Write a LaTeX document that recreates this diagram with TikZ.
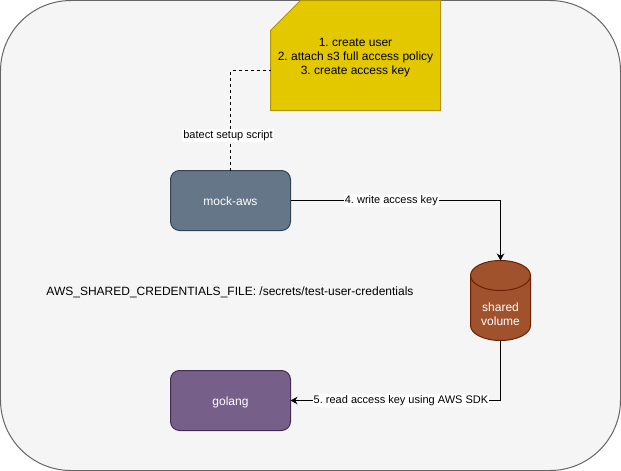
\documentclass[tikz,border=0pt]{standalone}
\usepackage{fontspec}
\setmainfont{Liberation Sans}
\usetikzlibrary{positioning, arrows.meta}
\definecolor{framefill}{HTML}{F5F5F5}
\definecolor{framedraw}{HTML}{666666}
\definecolor{notefill}{HTML}{E3C800}
\definecolor{notedraw}{HTML}{B09500}
\definecolor{awsfill}{HTML}{647687}
\definecolor{awsdraw}{HTML}{314354}
\definecolor{gofill}{HTML}{76608A}
\definecolor{godraw}{HTML}{432D57}
\definecolor{volfill}{HTML}{A0522D}
\definecolor{voldraw}{HTML}{6D1F00}
\tikzset{
  % Boxes
  framebox/.style = { draw=framedraw, fill=framefill, rounded corners=70.5pt,
                      minimum width=620pt, minimum height=470pt, outer sep=0pt },
  notebox/.style  = { draw=notedraw, fill=notefill },
  notetext/.style = { minimum width=170pt, minimum height=110pt, inner sep=0pt, outer sep=0pt,
                      align=center, font=\fontsize{12}{14}\selectfont },
  svcbox/.style   = { draw, rounded corners=9pt, minimum width=120pt, minimum height=60pt,
                      outer sep=0pt, text=white, text height=11pt, text depth=2pt,
                      font=\fontsize{12}{14}\selectfont },
  volbox/.style   = { draw=voldraw, fill=volfill },
  volarea/.style  = { minimum width=60pt, minimum height=80pt, inner sep=0pt, outer sep=0pt },
  voltext/.style  = { align=center, text=white, inner sep=0pt, font=\fontsize{12}{14}\selectfont },
  plaintext/.style= { font=\fontsize{12}{14}\selectfont, inner sep=0pt },
  % Connectors
  setupflow/.style= { dash pattern=on 3pt off 3pt },
  keyflow/.style  = { -{Stealth[length=7pt,width=7.5pt]} },
  edgelabel/.style= { font=\fontsize{11}{13}\selectfont, fill=white, inner sep=1pt,
                      text height=8.5pt, text depth=2.5pt }
}
\begin{document}
\frenchspacing
\begin{tikzpicture}[x=1pt,y=-1pt,line width=1pt]
  \useasboundingbox (-0.5,-0.5) rectangle (620.5,470.5);

  % --- Nodes ---
  \node[framebox] (frame) at (310,235) {};
  \draw[notebox] (300,0) -- (440,0) -- (440,110) -- (270,110) -- (270,30) -- cycle;
  \node[notetext] (steps) at (355,57) {1. create user\\2. attach s3 full access policy\\3. create access key};
  \node[svcbox, draw=awsdraw, fill=awsfill] (mockaws) at (230,200) {mock-aws};
  \node[svcbox, draw=godraw, fill=gofill] (golang) at (230,400) {golang};
  \draw[volbox] (470,275) .. controls (470,266.7) and (483.4,260) .. (500,260)
    .. controls (516.6,260) and (530,266.7) .. (530,275) -- (530,325)
    .. controls (530,333.3) and (516.6,340) .. (500,340)
    .. controls (483.4,340) and (470,333.3) .. (470,325) -- cycle;
  \draw[voldraw] (530,275) .. controls (530,283.3) and (516.6,290) .. (500,290)
    .. controls (483.4,290) and (470,283.3) .. (470,275);
  \node[volarea] (volume) at (500,300) {};
  \node[voltext] (volumetext) at (500,313.5) {shared\\volume};
  \node[plaintext] (envvar) at (229.5,292) {AWS\_SHARED\_CREDENTIALS\_FILE: /secrets/test-user-credentials};

  % --- Connectors ---
  \coordinate (stepsin) at (steps.west |- 0,70);
  \draw[setupflow] (mockaws.north) |- node[edgelabel, pos=0.175, xshift=-2.5pt] (setuplabel) {batect setup script} (stepsin);
  \draw[keyflow] (mockaws.east) -| node[edgelabel, pos=0.24] (writelabel) {4. write access key} (volume.north);
  \draw[keyflow] (volume.south) |- node[edgelabel, pos=0.737] (readlabel) {5. read access key using AWS SDK} (golang.east);
\end{tikzpicture}
\end{document}
